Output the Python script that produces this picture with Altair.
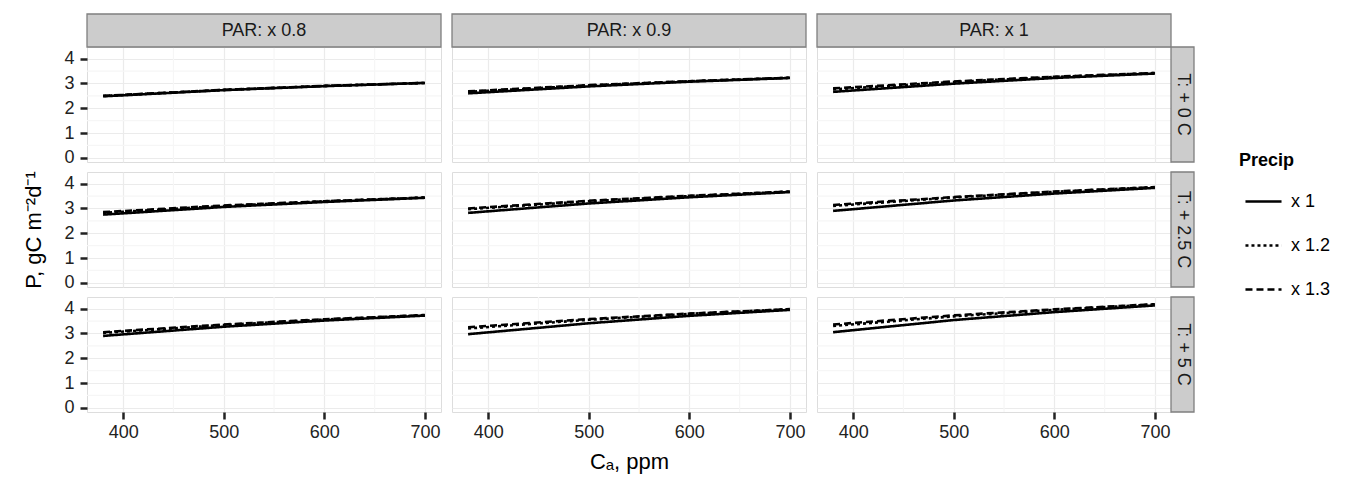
import altair as alt
import pandas as pd

# ---------------- data ----------------
co2 = [380, 500, 600, 700]                      # C_a, ppm
par_levels = ["PAR: x 0.8", "PAR: x 0.9", "PAR: x 1"]
t_levels = ["T: + 0 C", "T: + 2.5 C", "T: + 5 C"]
precip_levels = ["x 1", "x 1.2", "x 1.3"]

# P (gC m-2 d-1) for each panel: [x 1, x 1.2, x 1.3], values at co2 points
t0_par08 = [[2.48, 2.73, 2.89, 3.02], [2.49, 2.74, 2.90, 3.02], [2.50, 2.74, 2.90, 3.02]]
t0_par09 = [[2.60, 2.88, 3.07, 3.22], [2.66, 2.92, 3.09, 3.23], [2.68, 2.93, 3.09, 3.23]]
t0_par10 = [[2.66, 2.99, 3.22, 3.40], [2.76, 3.06, 3.26, 3.42], [2.80, 3.08, 3.27, 3.42]]
t25_par08 = [[2.75, 3.06, 3.26, 3.43], [2.82, 3.10, 3.29, 3.44], [2.85, 3.12, 3.29, 3.44]]
t25_par09 = [[2.82, 3.20, 3.45, 3.66], [2.97, 3.29, 3.50, 3.68], [3.00, 3.31, 3.51, 3.68]]
t25_par10 = [[2.90, 3.32, 3.60, 3.83], [3.10, 3.44, 3.67, 3.86], [3.14, 3.46, 3.68, 3.86]]
t5_par08 = [[2.90, 3.27, 3.52, 3.72], [3.02, 3.34, 3.56, 3.74], [3.05, 3.36, 3.57, 3.74]]
t5_par09 = [[2.97, 3.41, 3.71, 3.95], [3.20, 3.55, 3.79, 3.98], [3.25, 3.58, 3.80, 3.98]]
t5_par10 = [[3.05, 3.54, 3.86, 4.13], [3.30, 3.69, 3.95, 4.17], [3.36, 3.73, 3.97, 4.18]]

panels = [
    [t0_par08, t0_par09, t0_par10],
    [t25_par08, t25_par09, t25_par10],
    [t5_par08, t5_par09, t5_par10],
]

x_ticks = [400, 500, 600, 700]
x_minor = [450, 550, 650]
y_ticks = [0, 1, 2, 3, 4]
y_minor = [0.5, 1.5, 2.5, 3.5]

# ---------------- styling ----------------
W, H = 354, 115
FONT = "Liberation Sans"
BORDER = "#7F7F7F"
STRIP_FILL = "#CCCCCC"
X_DOMAIN = [364, 716]
Y_DOMAIN = [-0.17, 4.47]

dash_scale = alt.Scale(domain=precip_levels, range=[[1, 0], [3, 3], [7, 4]])
legend = alt.Legend(
    title="Precip", orient="none", legendX=1152, legendY=105,
    symbolType="stroke", symbolSize=1300, symbolStrokeWidth=2.6,
    symbolStrokeColor="black", symbolOffset=5, labelOffset=8,
    titleFontSize=18, titleFont=FONT,
    titleFontWeight="bold", titleColor="black", labelFontSize=18,
    labelFont=FONT, labelColor="black", rowPadding=15, titlePadding=12,
)


def make_panel(r, c):
    rows = []
    for k, pr in enumerate(precip_levels):
        for xv, yv in zip(co2, panels[r][c][k]):
            rows.append({"co2": xv, "P": yv, "precip": pr})
    df = pd.DataFrame(rows)

    bottom = r == 2
    left = c == 0
    x_axis = alt.Axis(
        values=x_ticks, grid=True, gridColor="#EBEBEB", gridWidth=1.2,
        labels=bottom, ticks=bottom, domain=False, tickSize=7, tickWidth=2.5,
        tickColor="#222222", labelFontSize=18, labelFont=FONT, labelColor="#222222",
        labelPadding=4,
        title="Cₐ, ppm" if (bottom and c == 1) else None,
        titleFontSize=22, titleFont=FONT, titleFontWeight="normal",
        titleColor="black", titlePadding=10,
    )
    y_axis = alt.Axis(
        values=y_ticks, grid=True, gridColor="#EBEBEB", gridWidth=1.2,
        labels=left, ticks=left, domain=False, tickSize=7, tickWidth=2.5,
        tickColor="#222222", labelFontSize=18, labelFont=FONT, labelColor="#222222",
        labelPadding=6,
        title="P, gC m⁻²d⁻¹" if (left and r == 1) else None,
        titleFontSize=22, titleFont=FONT, titleFontWeight="normal",
        titleColor="black", titlePadding=18,
    )
    xs = alt.Scale(domain=X_DOMAIN, nice=False, zero=False)
    ys = alt.Scale(domain=Y_DOMAIN, nice=False, zero=False)

    minor_x = alt.Chart(pd.DataFrame({"co2": x_minor})).mark_rule(
        color="#F6F6F6", strokeWidth=1.2
    ).encode(x=alt.X("co2:Q", scale=xs, axis=x_axis))
    minor_y = alt.Chart(pd.DataFrame({"P": y_minor})).mark_rule(
        color="#F6F6F6", strokeWidth=1.2
    ).encode(y=alt.Y("P:Q", scale=ys, axis=y_axis))

    lines = alt.Chart(df).mark_line(color="black", strokeWidth=2.6).encode(
        x=alt.X("co2:Q", scale=xs, axis=x_axis),
        y=alt.Y("P:Q", scale=ys, axis=y_axis),
        strokeDash=alt.StrokeDash("precip:N", scale=dash_scale, legend=legend),
        detail="precip:N",
    )
    layers = [minor_x, minor_y, lines]

    if r == 0:
        lab = alt.Data(values=[{"lab": par_levels[c]}])
        layers.append(alt.Chart(lab).mark_rect(
            fill=STRIP_FILL, stroke=BORDER, strokeWidth=1.3
        ).encode(x=alt.value(0), x2=alt.value(W), y=alt.value(-33), y2=alt.value(0)))
        layers.append(alt.Chart(lab).mark_text(
            fontSize=18, font=FONT, color="#1A1A1A", baseline="middle", align="center"
        ).encode(x=alt.value(W / 2), y=alt.value(-16), text="lab:N"))
    if c == 2:
        lab = alt.Data(values=[{"lab": t_levels[r]}])
        layers.append(alt.Chart(lab).mark_rect(
            fill=STRIP_FILL, stroke=BORDER, strokeWidth=1.3
        ).encode(x=alt.value(W), x2=alt.value(W + 23), y=alt.value(0), y2=alt.value(H)))
        layers.append(alt.Chart(lab).mark_text(
            fontSize=18, font=FONT, color="#1A1A1A", baseline="middle", align="center",
            angle=90
        ).encode(x=alt.value(W + 12), y=alt.value(H / 2), text="lab:N"))

    return alt.layer(*layers).properties(width=W, height=H)


rows = [alt.hconcat(*[make_panel(r, c) for c in range(3)], spacing=7) for r in range(3)]
chart = alt.vconcat(*rows, spacing=2).properties(
    padding={"left": 22, "top": 12, "right": 5, "bottom": 5}
).configure_view(
    stroke=BORDER, strokeWidth=1.3, fill="white"
).configure(
    background="white"
)

chart.save("out.html", embed_options={"renderer": "svg", "actions": False})
